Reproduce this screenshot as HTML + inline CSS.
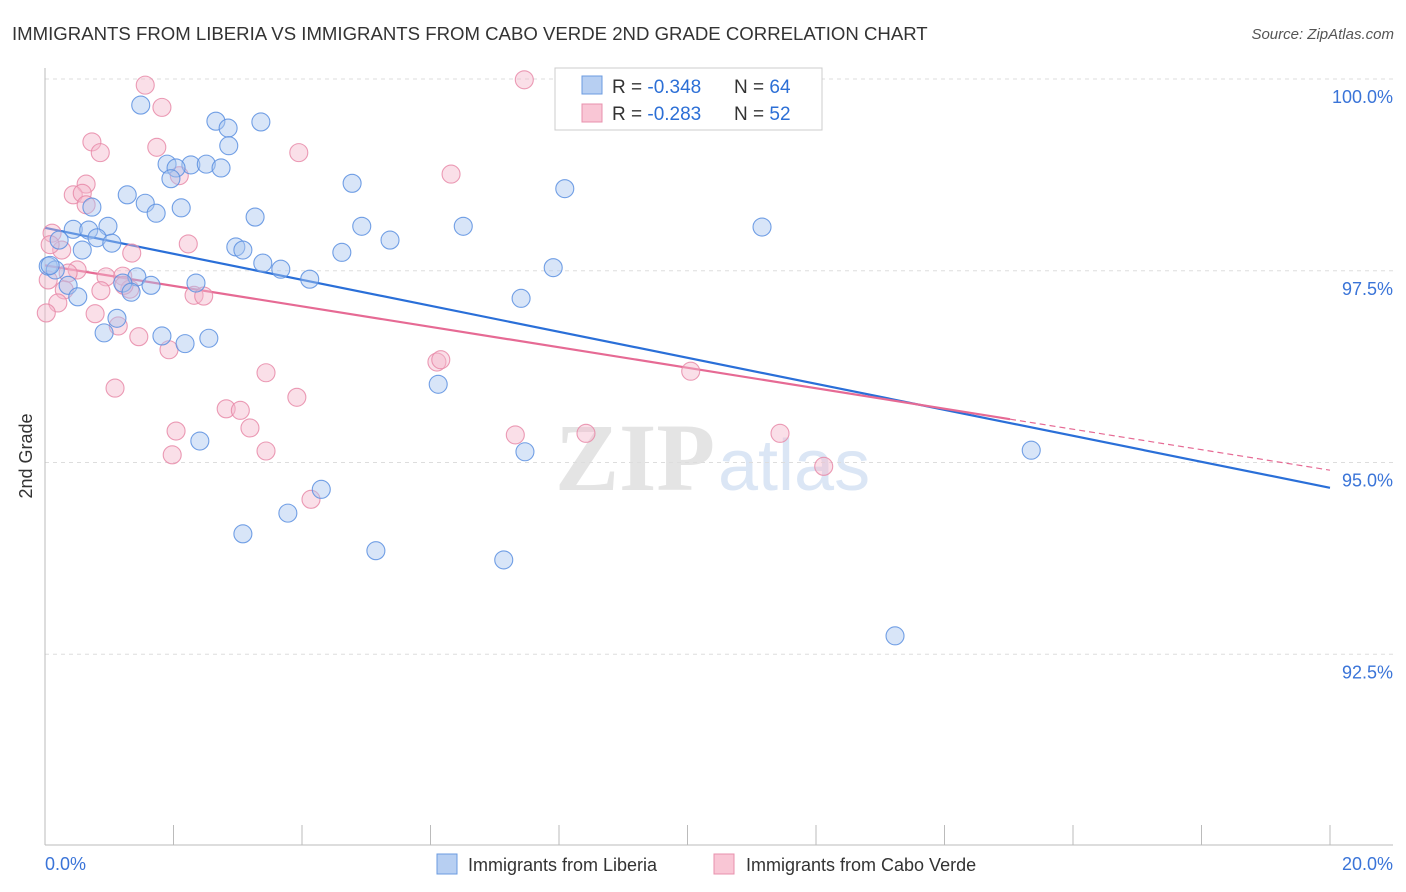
<!DOCTYPE html>
<html><head><meta charset="utf-8"><style>
body{margin:0;background:#fff;font-family:"Liberation Sans",sans-serif;}
svg{display:block}
</style></head><body>
<svg id="chart" width="1406" height="892" xmlns="http://www.w3.org/2000/svg">
<text x="12" y="40" font-size="18.6" fill="#333">IMMIGRANTS FROM LIBERIA VS IMMIGRANTS FROM CABO VERDE 2ND GRADE CORRELATION CHART</text>
<text x="1394" y="39" font-size="15" fill="#555" font-style="italic" text-anchor="end">Source: ZipAtlas.com</text>
<text x="32" y="456" font-size="18" fill="#333" transform="rotate(-90 32 456)" text-anchor="middle">2nd Grade</text>
<g><text x="555" y="490" font-size="96" fill="#e4e4e4" font-family="Liberation Serif,serif" font-weight="bold">ZIP</text><text x="718" y="490" font-size="72" fill="#dbe6f5">atlas</text></g>
<g id="grid"></g><g id="axes"></g><g id="lines"></g><g id="pts"></g>
<g>
<rect x="555" y="68" width="267" height="62" fill="#fff" stroke="#ccc"/>
<rect x="582" y="76" width="20" height="18" fill="#b7cff2" stroke="#6b9be0"/>
<rect x="582" y="104" width="20" height="18" fill="#f9c6d5" stroke="#e890ad"/>
<text x="612" y="93" font-size="19" fill="#333">R = <tspan fill="#2c6fd6">-0.348</tspan></text>
<text x="734" y="93" font-size="19" fill="#333">N = <tspan fill="#2c6fd6">64</tspan></text>
<text x="612" y="120" font-size="19" fill="#333">R = <tspan fill="#2c6fd6">-0.283</tspan></text>
<text x="734" y="120" font-size="19" fill="#333">N = <tspan fill="#2c6fd6">52</tspan></text>
</g>
<g>
<rect x="437" y="854" width="20" height="20" fill="#b7cff2" stroke="#6b9be0"/>
<text x="468" y="871" font-size="18" fill="#333">Immigrants from Liberia</text>
<rect x="714" y="854" width="20" height="20" fill="#f9c6d5" stroke="#e890ad"/>
<text x="746" y="871" font-size="18" fill="#333">Immigrants from Cabo Verde</text>
</g>
</svg>
<script>
const blueX=[1.49,2.66,3.36,2.85,2.86,1.90,2.27,2.51,2.74,2.04,1.96,4.78,8.09,1.28,1.56,0.73,2.12,1.73,3.27,0.98,4.93,6.51,11.16,0.44,0.68,0.22,0.81,1.04,5.37,2.97,3.08,0.58,4.62,3.39,3.67,7.91,0.05,0.16,4.12,1.43,2.35,1.65,1.21,0.36,1.34,0.51,7.41,1.12,0.92,1.82,2.55,2.18,6.12,2.41,7.47,15.35,4.30,3.78,3.08,5.15,7.14,13.23,9.42,0.08];
const blueY=[99.66,99.45,99.44,99.36,99.13,98.89,98.88,98.89,98.84,98.84,98.70,98.64,98.57,98.49,98.38,98.33,98.32,98.25,98.20,98.08,98.08,98.08,98.07,98.04,98.03,97.90,97.93,97.86,97.90,97.81,97.77,97.77,97.74,97.60,97.52,97.54,97.56,97.51,97.39,97.42,97.34,97.31,97.34,97.31,97.22,97.16,97.14,96.88,96.69,96.65,96.62,96.55,96.02,95.28,95.14,95.16,94.65,94.34,94.07,93.85,93.73,92.74,99.99,97.57];
const pinkX=[1.56,7.46,1.82,0.73,0.86,1.74,3.95,6.32,2.09,0.64,0.44,0.58,0.11,2.23,0.26,1.35,0.50,0.36,0.95,1.21,0.30,0.87,1.32,2.32,2.47,0.20,0.78,1.14,1.46,1.93,0.02,6.10,6.16,3.44,10.05,1.09,3.92,2.82,3.04,2.04,3.19,7.32,8.42,11.44,3.44,1.98,12.12,4.14,0.08,0.05,1.23,0.64];
const pinkY=[99.92,99.99,99.63,99.18,99.04,99.11,99.04,98.76,98.74,98.63,98.49,98.51,97.99,97.85,97.77,97.73,97.51,97.47,97.42,97.43,97.25,97.24,97.26,97.18,97.17,97.08,96.94,96.78,96.64,96.47,96.95,96.31,96.34,96.17,96.19,95.97,95.85,95.70,95.68,95.41,95.45,95.36,95.38,95.38,95.15,95.10,94.95,94.52,97.84,97.38,97.31,98.36];
const yTicks=[100,97.5,95,92.5];
const yTickLabels=["100.0%","97.5%","95.0%","92.5%"];
const xTicks=[0,2,4,6,8,10,12,14,16,18,20];
const blueTrend=[98.06,94.67];
const pinkTrend=[97.57,94.90];
const pinkSolidEnd=15.02;

const NS="http://www.w3.org/2000/svg";
const xs=v=>45+v*64.25;
const ys=v=>79+(100-v)*76.7;
function mk(tag,attrs,parent){const e=document.createElementNS(NS,tag);for(const k in attrs)e.setAttribute(k,attrs[k]);parent.appendChild(e);return e;}
const grid=document.getElementById('grid'),axes=document.getElementById('axes'),lines=document.getElementById('lines'),pts=document.getElementById('pts');
yTicks.forEach((t,i)=>{
  const l=mk('line',{x1:45,x2:1393,y1:ys(t),y2:ys(t),stroke:'#ddd','stroke-dasharray':'4 4'},grid);
  
  
  const tx=mk('text',{x:1393,y:ys(t)+24,'font-size':18,fill:'#3a74d8','text-anchor':'end'},axes);
  tx.textContent=yTickLabels[i];
  
  
});
const ax=mk('line',{x1:45,x2:45,y1:68,y2:845,stroke:'#bbb'},axes);


const bx=mk('line',{x1:45,x2:1393,y1:845,y2:845,stroke:'#bbb'},axes);


xTicks.forEach(t=>{
  const l=mk('line',{x1:xs(t),x2:xs(t),y1:825,y2:845,stroke:'#bbb'},axes);
  
  
});
const xl0=mk('text',{x:45,y:870,'font-size':18,fill:'#3a74d8'},axes);xl0.textContent=xTicks[0].toFixed(1)+'%';


const xl1=mk('text',{x:1393,y:870,'font-size':18,fill:'#3a74d8','text-anchor':'end'},axes);xl1.textContent=xTicks[xTicks.length-1].toFixed(1)+'%';


function draw(X,Y,fill,stroke,name){X.forEach((x,i)=>{const c=mk('circle',{cx:xs(x),cy:ys(Y[i]),r:9,fill:fill,'fill-opacity':0.45,stroke:stroke,'stroke-opacity':0.85,'stroke-width':1.1},pts);
  
  });}
draw(pinkX,pinkY,'#f5b8cb','#e88aa8','cabo-verde-point');
draw(blueX,blueY,'#a9c6f0','#5b8fe0','liberia-point');
const tb=v=>blueTrend[0]+(blueTrend[1]-blueTrend[0])*v/20;
const tp=v=>pinkTrend[0]+(pinkTrend[1]-pinkTrend[0])*v/20;
const l1=mk('line',{x1:xs(0),y1:ys(tb(0)),x2:xs(20),y2:ys(tb(20)),stroke:'#2a6fd8','stroke-width':2.2},lines);


const l2=mk('line',{x1:xs(0),y1:ys(tp(0)),x2:xs(pinkSolidEnd),y2:ys(tp(pinkSolidEnd)),stroke:'#e66a94','stroke-width':2.2},lines);


const l3=mk('line',{x1:xs(pinkSolidEnd),y1:ys(tp(pinkSolidEnd)),x2:xs(20),y2:ys(tp(20)),stroke:'#e66a94','stroke-width':1.2,'stroke-dasharray':'6 4'},lines);


</script>
</body></html>
